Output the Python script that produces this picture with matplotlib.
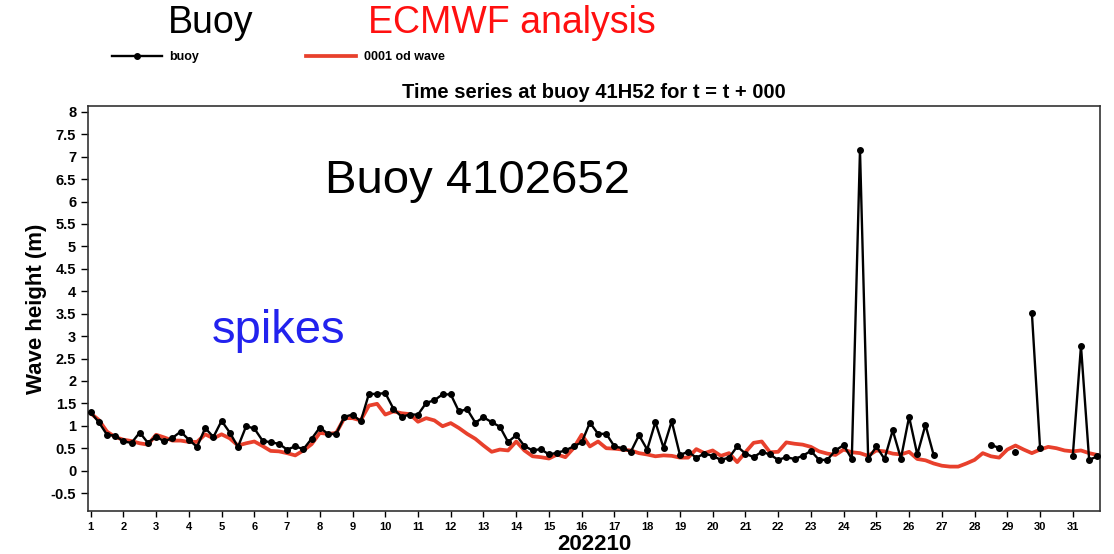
import numpy as np
import matplotlib
matplotlib.use('Agg')
import matplotlib.pyplot as plt
from matplotlib.ticker import FuncFormatter

plt.rcParams['font.family'] = ['Liberation Sans', 'DejaVu Sans']

nan = np.nan

# 6-hourly steps, October 2022
days = np.arange(1, 32, 0.25)

# buoy 41H52 significant wave height (m), gaps where no report
buoy = [1.30, 1.08, 0.80, 0.78,
        0.65, 0.62, 0.85, 0.62,
        0.76, 0.65, 0.73, 0.87,
        0.69, 0.53, 0.95, 0.75,
        1.11, 0.85, 0.53, 0.99,
        0.94, 0.67, 0.63, 0.60,
        0.47, 0.54, 0.48, 0.71,
        0.96, 0.82, 0.82, 1.20,
        1.25, 1.10, 1.71, 1.71,
        1.73, 1.38, 1.20, 1.25,
        1.25, 1.51, 1.57, 1.70,
        1.70, 1.32, 1.37, 1.07,
        1.19, 1.08, 0.98, 0.64,
        0.79, 0.55, 0.45, 0.48,
        0.36, 0.40, 0.45, 0.54,
        0.63, 1.07, 0.82, 0.82,
        0.54, 0.50, 0.42, 0.79,
        0.47, 1.08, 0.51, 1.10,
        0.35, 0.42, 0.29, 0.38,
        0.33, 0.24, 0.29, 0.54,
        0.38, 0.30, 0.42, 0.36,
        0.24, 0.30, 0.26, 0.33,
        0.44, 0.24, 0.24, 0.45,
        0.57, 0.26, 7.15, 0.26,
        0.54, 0.26, 0.90, 0.27,
        1.20, 0.36, 1.02, 0.35,
        nan, nan, nan, nan,
        nan, nan, 0.57, 0.51,
        nan, 0.41, nan, 3.52,
        0.51, nan, nan, nan,
        0.33, 2.78, 0.24, 0.32]

# ECMWF analysis (0001 od wave) at the buoy location
model = [1.28, 1.13, 0.87, 0.75,
         0.69, 0.66, 0.61, 0.58,
         0.80, 0.74, 0.67, 0.67,
         0.64, 0.64, 0.81, 0.72,
         0.81, 0.72, 0.56, 0.61,
         0.65, 0.55, 0.44, 0.43,
         0.39, 0.34, 0.45, 0.59,
         0.84, 0.82, 0.84, 1.17,
         1.17, 1.12, 1.45, 1.49,
         1.25, 1.32, 1.28, 1.26,
         1.09, 1.17, 1.12, 0.99,
         1.06, 0.95, 0.82, 0.71,
         0.56, 0.42, 0.47, 0.45,
         0.65, 0.45, 0.32, 0.30,
         0.27, 0.36, 0.30, 0.50,
         0.80, 0.54, 0.65, 0.50,
         0.49, 0.47, 0.45, 0.39,
         0.36, 0.32, 0.34, 0.33,
         0.29, 0.29, 0.48, 0.39,
         0.45, 0.33, 0.39, 0.19,
         0.41, 0.62, 0.65, 0.41,
         0.42, 0.63, 0.60, 0.58,
         0.53, 0.43, 0.38, 0.35,
         0.47, 0.41, 0.39, 0.33,
         0.45, 0.43, 0.38, 0.36,
         0.42, 0.26, 0.23, 0.16,
         0.11, 0.09, 0.09, 0.16,
         0.24, 0.39, 0.32, 0.29,
         0.47, 0.56, 0.47, 0.39,
         0.47, 0.53, 0.50, 0.45,
         0.43, 0.45, 0.39, 0.35]

fig = plt.figure(figsize=(11.14, 5.54), dpi=100)
ax = fig.add_axes([0.079, 0.0776, 0.9084, 0.7311])

l_buoy, = ax.plot(days, buoy, color='black', lw=1.7, marker='o', ms=4,
                  label='buoy', zorder=3)
l_mod, = ax.plot(days, model, color='#e8402c', lw=2.7, label='0001 od wave',
                 zorder=2)

ax.set_xlim(0.92, 31.83)
ax.set_ylim(-0.9, 8.13)
ax.set_xticks(range(1, 32))
ax.set_yticks(np.arange(-0.5, 8.01, 0.5))
ax.yaxis.set_major_formatter(FuncFormatter(lambda v, p: '%g' % v))
ax.tick_params(axis='y', labelsize=10.5, length=5, width=1, direction='out')
ax.tick_params(axis='x', labelsize=8, length=4, width=1, direction='out', pad=4)
for lab in ax.get_xticklabels() + ax.get_yticklabels():
    lab.set_fontweight('bold')
for s in ax.spines.values():
    s.set_linewidth(1.2)
    s.set_color('#333333')

ax.set_ylabel('Wave height (m)', fontsize=16, fontweight='bold', labelpad=3)
ax.set_xlabel('202210', fontsize=16, fontweight='bold', labelpad=1)
ax.set_title('Time series at buoy 41H52 for t = t + 000', fontsize=14.5,
             fontweight='bold', pad=6)

ax.text(0.234, 0.815, 'Buoy 4102652', transform=ax.transAxes, fontsize=34,
        va='center')
ax.text(0.122, 0.445, 'spikes', transform=ax.transAxes, fontsize=34,
        color='#2222ee', va='center')

fig.text(0.151, 0.958, 'Buoy', fontsize=27, va='center')
fig.text(0.33, 0.958, 'ECMWF analysis', fontsize=27, va='center',
         color='#ff1010')

fig.legend(handles=[l_buoy, l_mod], loc='center left',
           bbox_to_anchor=(0.09, 0.897), ncol=2, frameon=False,
           handlelength=4, handletextpad=0.6, columnspacing=8.6,
           numpoints=1, prop={'size': 9, 'weight': 'bold'})

fig.savefig('out.png', dpi=100)
